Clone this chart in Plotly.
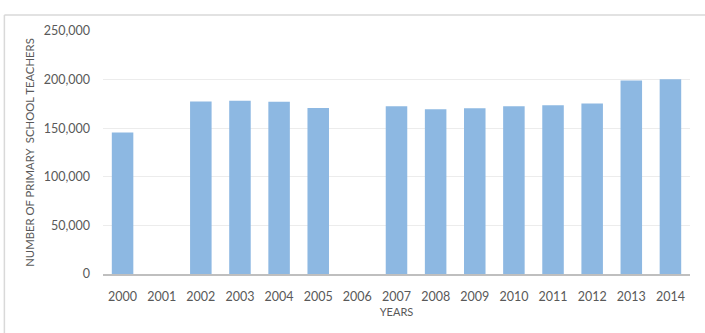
import plotly.graph_objects as go

years = [str(y) for y in range(2000, 2015)]
teachers = [145500, 0, 177400, 178300, 177300, 170800, 0, 172700, 169400,
            170500, 172500, 173500, 175300, 199000, 200300]
y_ticks = [0, 50000, 100000, 150000, 200000, 250000]
y_tick_labels = ["0", "50,000", "100,000", "150,000", "200,000", "250,000"]

font_family = "Lato, Open Sans, sans-serif"
gray = "#595959"

fig = go.Figure(go.Bar(
    x=years, y=teachers,
    marker=dict(color="#8db8e2", line=dict(width=0)),
    width=0.55,
))

fig.update_layout(
    width=705, height=333,
    margin=dict(l=103, r=15, t=31, b=59),
    paper_bgcolor="white", plot_bgcolor="white",
    showlegend=False,
    font=dict(family=font_family, color=gray, size=12),
    bargap=0.45,
)
fig.update_xaxes(
    type="category",
    showgrid=False,
    showline=True, linecolor="#bfbfbf", linewidth=1.5,
    ticks="", tickfont=dict(size=12.5, color=gray),
    ticklabelstandoff=10,
    title=dict(text="YEARS", font=dict(size=11, color=gray), standoff=6),
)
fig.update_yaxes(
    range=[0, 250000],
    tickvals=y_ticks, ticktext=y_tick_labels,
    showgrid=True, gridcolor="#ececec", gridwidth=1,
    zeroline=False, showline=False, ticks="",
    tickfont=dict(size=12.5, color=gray),
    ticklabelstandoff=12,
    title=dict(text="NUMBER OF PRIMARY  SCHOOL TEACHERS",
               font=dict(size=11.3, color=gray), standoff=6),
)

# chart frame (top and left borders)
fig.add_shape(type="line", xref="paper", yref="paper",
              x0=-0.168, x1=1.05, y0=1.066, y1=1.066,
              line=dict(color="#d9d9d9", width=1.5))
fig.add_shape(type="line", xref="paper", yref="paper",
              x0=-0.168, x1=-0.168, y0=1.066, y1=-0.25,
              line=dict(color="#d9d9d9", width=1.5))

fig.write_html("out.html")
